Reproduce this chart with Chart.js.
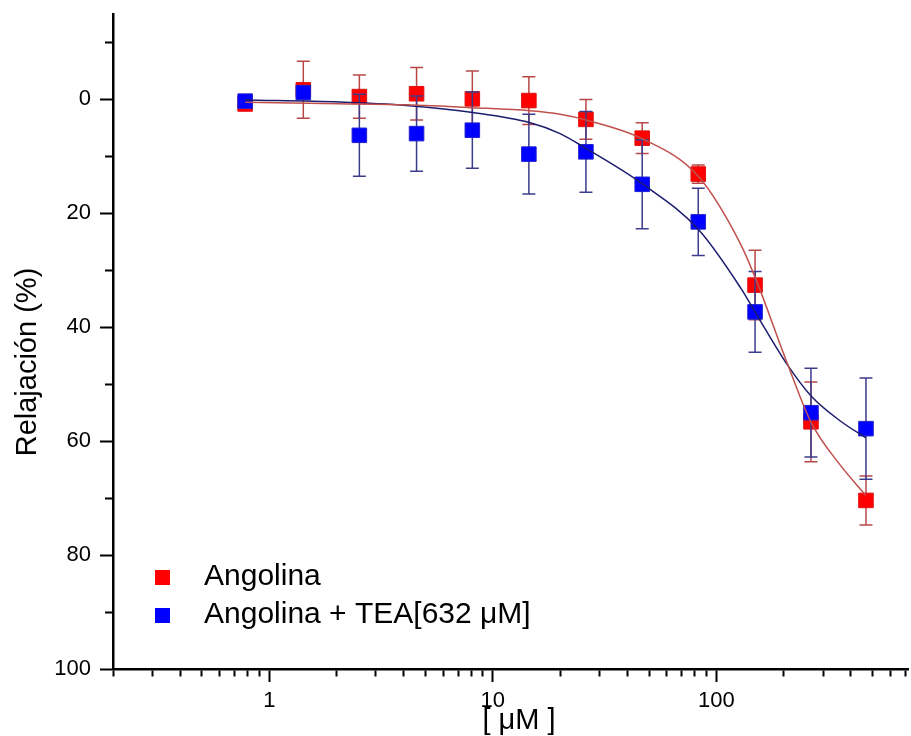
<!DOCTYPE html>
<html>
<head>
<meta charset="utf-8">
<title>Relajación - Angolina</title>
<script src="https://cdn.jsdelivr.net/npm/chart.js"></script>
<style>
  html, body { margin: 0; padding: 0; background: #fff; }
  #wrap { width: 911px; height: 736px; position: relative; }
</style>
</head>
<body>
<div id="wrap"><canvas id="chart"></canvas></div>
<script>
'use strict';

// concentrations (uM) of each measured point
const conc = [0.78, 1.42, 2.53, 4.56, 8.1, 14.5, 26.1, 46.6, 83, 149, 265, 467];

// Angolina: mean relaxation (%) and error
const angolina = [0.8, -1.7, -0.5, -1.0, -0.1, 0.2, 3.5, 6.8, 13.1, 32.6, 56.6, 70.4];
const angolinaErr = [0.5, 5.0, 3.8, 4.6, 4.9, 4.2, 3.5, 2.7, 1.6, 6.1, 7.0, 4.3];

// Angolina + TEA[632 uM]
const angolinaTea = [0.3, -1.2, 6.3, 6.0, 5.4, 9.6, 9.2, 14.9, 21.5, 37.3, 55.0, 57.8];
const angolinaTeaErr = [0.3, 1.0, 7.2, 6.6, 6.7, 7.0, 7.1, 7.8, 5.9, 7.1, 7.8, 8.9];

// fitted curves
const fitX = [0.78, 2.06, 4.11, 8.13, 14.7, 20, 26.1, 46.6, 83, 128, 150, 208, 266, 360, 466];
const fitAngolina = [0.5, 0.75, 0.95, 1.45, 2.0, 2.6, 3.6, 6.9, 13.5, 25.3, 31.5, 46.4, 56.8, 64.3, 69.5];
const fitAngolinaTea = [0.1, 0.45, 1.05, 2.3, 4.1, 6.0, 8.6, 14.8, 22.8, 33.0, 37.5, 46.6, 52.1, 56.5, 59.4];

const labels = ['Angolina', 'Angolina + TEA[632 \u03bcM]'];
const xTitle = '[ \u03bcM ]';
const yTitle = 'Relajación (%)';
const xTickLabels = [1, 10, 100];
const yTickLabels = [0, 20, 40, 60, 80, 100];

const pts = (xs, ys) => xs.map((x, i) => ({x: x, y: ys[i]}));
const FONT = "'Liberation Sans', Arial, sans-serif";

Chart.defaults.font.family = FONT;
Chart.defaults.color = '#000';

// error bars are drawn just before the markers of their own dataset
const errorBars = {
  id: 'errorBars',
  beforeDatasetDraw(chart, args) {
    const ds = chart.data.datasets[args.index];
    if (!ds.errors) return;
    const ctx = chart.ctx;
    const x = chart.scales.x, y = chart.scales.y;
    ctx.save();
    ctx.strokeStyle = ds.errorColor;
    ctx.lineWidth = 1.5;
    ds.data.forEach((p, i) => {
      const px = x.getPixelForValue(p.x);
      const top = y.getPixelForValue(p.y - ds.errors[i]);
      const bot = y.getPixelForValue(p.y + ds.errors[i]);
      ctx.beginPath();
      ctx.moveTo(px, top);
      ctx.lineTo(px, bot);
      ctx.moveTo(px - 6.5, top);
      ctx.lineTo(px + 6.5, top);
      ctx.moveTo(px - 6.5, bot);
      ctx.lineTo(px + 6.5, bot);
      ctx.stroke();
    });
    ctx.restore();
  }
};

// legend inside the plot (bottom left) and the two axis titles
const annotations = {
  id: 'annotations',
  afterDraw(chart) {
    const ctx = chart.ctx;
    ctx.save();
    ctx.font = '30px ' + FONT;
    ctx.textBaseline = 'middle';
    ctx.textAlign = 'left';
    labels.forEach((lbl, i) => {
      const d = chart.data.datasets.find(ds => ds.label === lbl);
      const cy = 577 + i * 38;
      ctx.fillStyle = d.backgroundColor;
      ctx.fillRect(155, cy - 7, 15, 15);
      ctx.fillStyle = '#000';
      ctx.fillText(lbl, 204, cy);
    });

    ctx.font = '29px ' + FONT;
    ctx.textAlign = 'center';
    ctx.fillText(xTitle, 519, 721);

    ctx.translate(28, 362);
    ctx.rotate(-Math.PI / 2);
    ctx.fillText(yTitle, 0, 0);
    ctx.restore();
  }
};

const isMajorX = v => xTickLabels.includes(v);
const isMajorY = v => v % 20 === 0;

new Chart(document.getElementById('chart'), {
  type: 'scatter',
  data: {
    datasets: [
      {
        label: 'fit Angolina',
        data: pts(fitX, fitAngolina),
        showLine: true,
        pointRadius: 0,
        borderColor: '#c0504d',
        borderWidth: 1.5,
        cubicInterpolationMode: 'monotone',
        order: 0
      },
      {
        label: 'fit Angolina + TEA',
        data: pts(fitX, fitAngolinaTea),
        showLine: true,
        pointRadius: 0,
        borderColor: '#1c1c6e',
        borderWidth: 1.5,
        cubicInterpolationMode: 'monotone',
        order: 0
      },
      {
        label: labels[1],
        data: pts(conc, angolinaTea),
        errors: angolinaTeaErr,
        errorColor: '#3c3c8c',
        pointStyle: 'rect',
        pointRadius: 10.3,
        backgroundColor: '#0000ff',
        borderColor: '#2020d0',
        borderWidth: 1,
        order: 1
      },
      {
        label: labels[0],
        data: pts(conc, angolina),
        errors: angolinaErr,
        errorColor: '#b84848',
        pointStyle: 'rect',
        pointRadius: 10.3,
        backgroundColor: '#ff0000',
        borderColor: '#e01010',
        borderWidth: 1,
        order: 2
      }
    ]
  },
  options: {
    responsive: true,
    maintainAspectRatio: false,
    animation: false,
    layout: { autoPadding: false, padding: { top: 14, right: 3, left: 0, bottom: 0 } },
    plugins: {
      legend: { display: false },
      tooltip: { enabled: false }
    },
    scales: {
      x: {
        type: 'logarithmic',
        position: 'bottom',
        min: 0.2,
        max: 720,
        afterBuildTicks: (scale) => {
          const ticks = [];
          for (let e = -1; e <= 2; e++) {
            for (let d = 1; d <= 9; d++) {
              const v = Number((d * Math.pow(10, e)).toPrecision(3));
              if (v >= scale.min && v <= scale.max) ticks.push({value: v, major: d === 1});
            }
          }
          scale.ticks = ticks;
        },
        afterFit: (scale) => {
          scale.height = 67;
          scale.paddingLeft = 0;
          scale.paddingRight = 0;
        },
        border: { display: true, color: '#000', width: 2.5 },
        grid: {
          drawOnChartArea: false,
          drawTicks: true,
          tickLength: 13,
          tickWidth: 2,
          tickColor: '#000',
          tickBorderDash: (c) => (c.tick && isMajorX(c.tick.value)) ? [] : [6, 100]
        },
        ticks: {
          autoSkip: false,
          maxRotation: 0,
          padding: 6,
          font: { size: 22 },
          callback: (v) => xTickLabels.includes(v) ? String(v) : ''
        }
      },
      y: {
        type: 'linear',
        reverse: true,
        min: -15,
        max: 100,
        afterFit: (scale) => {
          scale.width = 113;
          scale.paddingTop = 0;
          scale.paddingBottom = 0;
        },
        border: { display: true, color: '#000', width: 2.5 },
        grid: {
          drawOnChartArea: false,
          drawTicks: true,
          tickLength: 13,
          tickWidth: 2,
          tickColor: '#000',
          tickBorderDash: (c) => (c.tick && isMajorY(c.tick.value)) ? [] : [0, 5, 100]
        },
        ticks: {
          stepSize: 10,
          includeBounds: false,
          autoSkip: false,
          padding: 9,
          font: { size: 22 },
          callback: (v) => yTickLabels.includes(v) ? String(v) : ''
        }
      }
    }
  },
  plugins: [errorBars, annotations]
});
</script>
</body>
</html>
